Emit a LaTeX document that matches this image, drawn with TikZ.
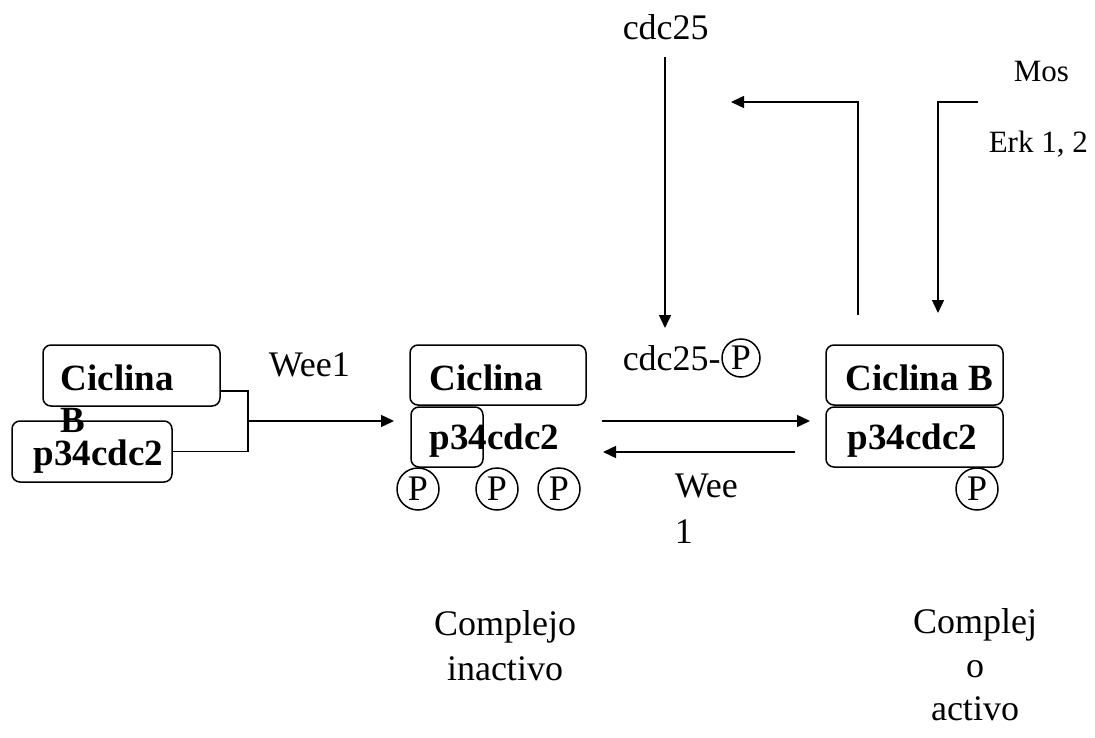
\documentclass[tikz,border=0pt]{standalone}
\usepackage{fontspec}
\setmainfont{Liberation Serif}
\usetikzlibrary{arrows.meta}
\begin{document}
\begin{tikzpicture}[x=1pt,y=-1pt, line width=1.5pt,
 box/.style={draw, rounded corners=8pt, inner sep=0pt},
 lbl/.style={font=\fontsize{36}{42}\selectfont, inner sep=0pt, anchor=base west},
 slbl/.style={font=\fontsize{31}{36}\selectfont, inner sep=0pt, anchor=base west},
 clbl/.style={font=\fontsize{36}{42}\selectfont, inner sep=0pt, anchor=base},
 blbl/.style={font=\fontsize{37}{42}\selectfont\bfseries, inner sep=0pt, anchor=base west},
 pc/.style={draw, circle, minimum size=42pt, inner sep=0pt, font=\fontsize{36}{40}\selectfont},
 arr/.style={-{Triangle[length=13pt,width=12pt]}},
]
\useasboundingbox (0,0) rectangle (1095,738);
% boxes
\node[box, minimum width=177pt, minimum height=61pt] (b1) at (131.5,375.5) {};
\node[box, minimum width=160pt, minimum height=61pt] (b2) at (92,451.5) {};
\node[box, minimum width=176pt, minimum height=60pt] (b3) at (498,375) {};
\node[box, minimum width=72pt, minimum height=60pt] (b4) at (447,437) {};
\node[box, minimum width=177pt, minimum height=60pt] (b5) at (914.5,375) {};
\node[box, minimum width=177pt, minimum height=60pt] (b6) at (914.5,437) {};
% box texts
\node[blbl] (t1) at (60,390) {Ciclina};
\node[blbl] (t1b) at (60,432) {B};
\node[blbl] (t2) at (33,465) {p34cdc2};
\node[blbl] (t3) at (429,390) {Ciclina};
\node[blbl] (t4) at (429,449) {p34cdc2};
\node[blbl] (t5) at (845,390) {Ciclina B};
\node[blbl] (t6) at (847,449) {p34cdc2};
% phosphates
\node[pc] (p1) at (418,489) {P};
\node[pc] (p2) at (497,489) {P};
\node[pc] (p3) at (559,489) {P};
\node[pc] (p4) at (977,489) {P};
% labels
\node[lbl] (cdctop) at (622,40) {cdc25};
\node[slbl] (mos) at (1013,82) {Mos};
\node[slbl] (erk) at (988,153) {Erk 1, 2};
\node[lbl] (wee1) at (268,376) {Wee1};
\node[lbl] (cdcp) at (622,370) {cdc25-};
\node[pc, minimum size=38pt] (pp) at (741,358) {P};
\node[lbl] (wee2) at (674,497) {Wee};
\node[lbl] (wee2b) at (674,543) {1};
\node[clbl] (ci1) at (505,635) {Complejo};
\node[clbl] (ci2) at (505,680) {inactivo};
\node[clbl] (ca1) at (975,633) {Complej};
\node[clbl] (ca2) at (975,677) {o};
\node[clbl] (ca3) at (975,720) {activo};
% bracket and arrow into complex
\coordinate (bt) at (248,391);
\coordinate (bb) at (248,451.5);
\coordinate (bm) at (248,421);
\coordinate (bend) at (394,421);
\draw (b1.east |- bt) -- (bt) -- (bb) -- (b2.east);
\draw[arr] (bm) -- (bend);
% reversible arrows
\coordinate (ua) at (602,421);
\coordinate (ue) at (810,421);
\coordinate (la) at (795,452);
\coordinate (le) at (603,452);
\draw[arr] (ua) -- (ue);
\draw[arr] (la) -- (le);
% cdc25 arrow
\coordinate (ct) at (665,57);
\coordinate (cb) at (665,328);
\draw[arr] (ct) -- (cb);
% feedback loop
\coordinate (l1) at (858,315);
\coordinate (l2) at (858,102);
\coordinate (l3) at (731,102);
\draw[arr] (l1) -- (l2) -- (l3);
% Mos arrow
\coordinate (m1) at (978,102);
\coordinate (m2) at (938,102);
\coordinate (m3) at (938,313);
\draw[arr] (m1) -- (m2) -- (m3);
\end{tikzpicture}
\end{document}
